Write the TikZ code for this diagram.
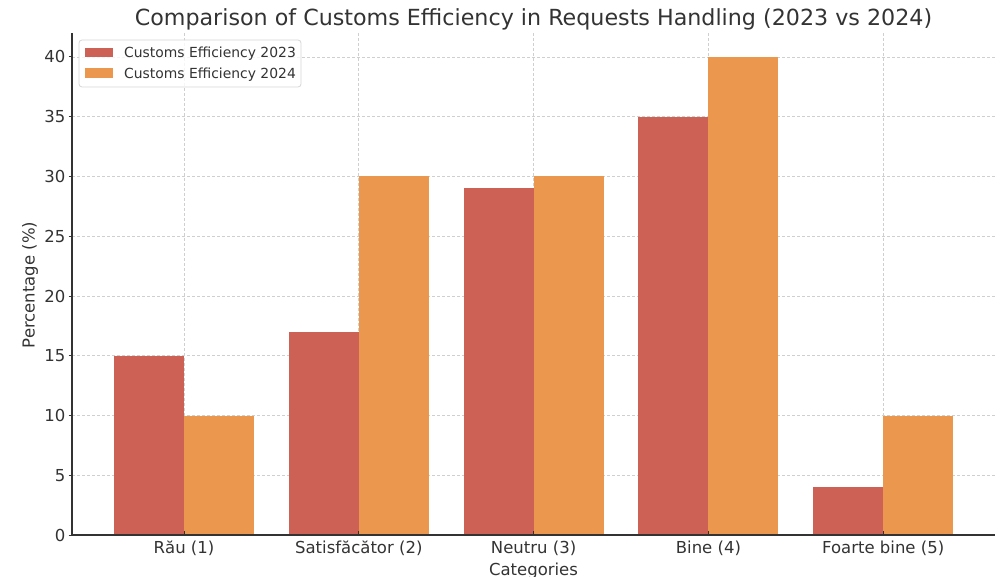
\documentclass[tikz,border=0pt]{standalone}
\usepackage{fontspec}
\setmainfont{DejaVu Sans}
\definecolor{bar23}{HTML}{CD6155}
\definecolor{bar24}{HTML}{EB984E}
\definecolor{ink}{HTML}{333333}
\definecolor{gridc}{HTML}{CFCFCF}
\definecolor{legframe}{HTML}{D6D6D6}
\tikzset{
  gridline/.style={draw=gridc, line width=0.8pt, dash pattern=on 3pt off 2pt},
  spine/.style={draw=ink, line width=1.2pt},
  tickmark/.style={draw=ink, line width=1pt},
  ticklabel/.style={text=ink, inner sep=0pt, font=\fontsize{16.5}{18}\selectfont},
  titletext/.style={text=ink, inner sep=0pt, font=\fontsize{22.2}{24}\selectfont},
  legtext/.style={text=ink, inner sep=0pt, anchor=base west, font=\fontsize{13.9}{16}\selectfont},
}
\begin{document}
\begin{tikzpicture}[x=1pt, y=-1pt]
\useasboundingbox (0,0) rectangle (1000,577);
% value v sits at y = 535 - 11.95 v ; category i is centred at x = 184 + 174.8 i
\coordinate (origin) at (72,535);
\coordinate (ytop) at (72,33);
\coordinate (xend) at (995,535);

% grid
\foreach \v in {5,10,...,40}
  \draw[gridline] (72,{535-11.95*\v}) -- (995,{535-11.95*\v});
\foreach \i in {0,...,4}
  \draw[gridline] ({184+174.8*\i},33) -- ({184+174.8*\i},535);

% bars
\foreach \i/\a/\b in {0/15/10, 1/17/30, 2/29/30, 3/35/40, 4/4/10} {
  \fill[bar23] ({184+174.8*\i-70},535) rectangle ({184+174.8*\i},{535-11.95*\a});
  \fill[bar24] ({184+174.8*\i},535) rectangle ({184+174.8*\i+70},{535-11.95*\b});
}

% axes
\draw[spine] (ytop) -- (origin) -- (xend);

% y ticks
\foreach \v in {0,5,...,40} {
  \draw[tickmark] (68.5,{535-11.95*\v}) -- (72,{535-11.95*\v});
  \node[ticklabel, anchor=base east] (yl\v) at (65.5,{535-11.95*\v+6}) {\v};
}

% x ticks
\foreach \i/\lab in {0/Rău (1), 1/Satisfăcător (2), 2/Neutru (3), 3/Bine (4), 4/Foarte bine (5)} {
  \draw[tickmark] ({184+174.8*\i},535) -- ({184+174.8*\i},531);
  \node[ticklabel, anchor=base] (xl\i) at ({184+174.8*\i},553) {\lab};
}

% axis titles and heading
\node[ticklabel, anchor=base] (xlabel) at (533.5,575) {Categories};
\node[ticklabel, rotate=90, anchor=center] (ylabel) at (30,285) {Percentage (\%)};
\node[titletext, anchor=base] (title) at (533.5,26) {Comparison of Customs Efficiency in Requests Handling (2023 vs 2024)};

% legend
\draw[draw=legframe, fill=white, fill opacity=0.8, line width=0.8pt, rounded corners=3pt]
  (79,40) rectangle (301,87);
\fill[bar23] (85,47.7) rectangle (113,57);
\fill[bar24] (85,68.3) rectangle (113,78);
\node[legtext] (leg23) at (124,57.6) {Customs Efficiency 2023};
\node[legtext] (leg24) at (124,78.2) {Customs Efficiency 2024};
\end{tikzpicture}
\end{document}
